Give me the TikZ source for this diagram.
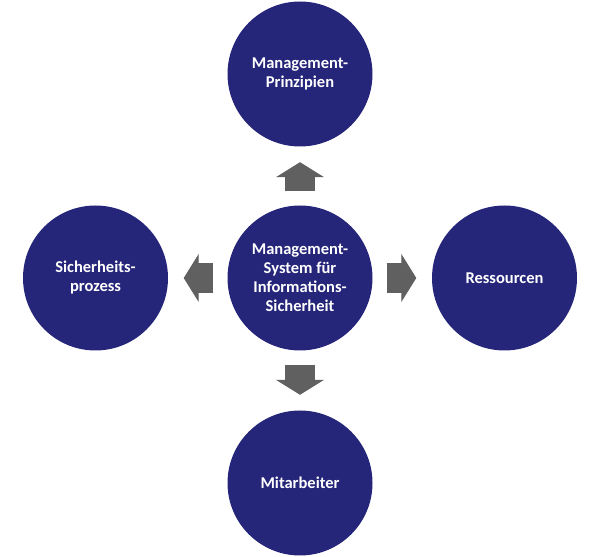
\documentclass[tikz,border=0pt]{standalone}
\usepackage{fontspec}
\setmainfont{Carlito}
\usetikzlibrary{arrows.meta}
\definecolor{circleBlue}{HTML}{25257A}
\definecolor{arrowGray}{HTML}{606060}

\begin{document}
\begin{tikzpicture}[x=1pt, y=1pt,
    topic/.style={circle, fill=circleBlue, minimum size=145pt, inner sep=0pt,
      text=white, align=center, font=\fontsize{16.5}{19}\selectfont\bfseries},
    flow/.style={arrowGray, line width=30pt, shorten <=14pt, shorten >=16pt,
      -{Triangle[width=48pt, length=15pt, line width=1pt, sep=-0.5pt]}}]
  \useasboundingbox (0,0) rectangle (600,557);
  % the core topic and the four around it
  \node[topic] (core)   at (300,279)  {Management-\\System für\\Informations-\\Sicherheit};
  \node[topic] (prinz)  at (300,483)  {Management-\\Prinzipien};
  \node[topic] (prozess) at (95.5,279) {Sicherheits-\\prozess};
  \node[topic] (ress)   at (504.5,279) {Ressourcen};
  \node[topic] (mitarb) at (300,74)   {Mitarbeiter};
  % block arrows out of the core
  \draw[flow] (core) -- (prinz);
  \draw[flow] (core) -- (prozess);
  \draw[flow] (core) -- (ress);
  \draw[flow] (core) -- (mitarb);
\end{tikzpicture}
\end{document}
